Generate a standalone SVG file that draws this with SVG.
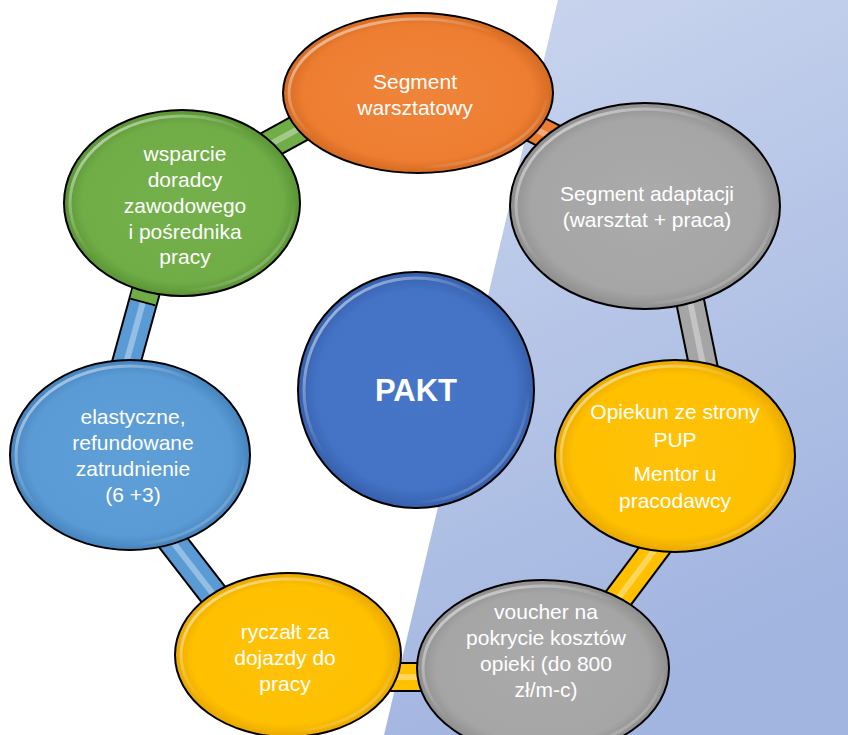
<svg xmlns="http://www.w3.org/2000/svg" width="848" height="735" viewBox="0 0 848 735">
<defs>
<style>
.t{font-family:"Liberation Sans",Arial,sans-serif;font-size:21px;fill:#fff;text-anchor:middle}
.tb{font-family:"Liberation Sans",Arial,sans-serif;font-size:31px;font-weight:bold;fill:#fff;text-anchor:middle}
.ol{stroke:#000;stroke-width:30;fill:none}
.bf{stroke-width:26;fill:none}
.hl{stroke:#fff;stroke-opacity:0.35;stroke-width:6;fill:none}
.node{stroke:#000;stroke-width:2}
.rim{fill:none;stroke:url(#rimg);stroke-width:3}
</style>
<linearGradient id="bg" x1="0" y1="0" x2="0.3" y2="1">
<stop offset="0" stop-color="#ccd7ef"/>
<stop offset="1" stop-color="#a2b5e0"/>
</linearGradient>
<linearGradient id="rimg" x1="0" y1="0" x2="1" y2="1">
<stop offset="0" stop-color="#fff" stop-opacity="0.7"/>
<stop offset="0.45" stop-color="#fff" stop-opacity="0"/>
<stop offset="0.75" stop-color="#fff" stop-opacity="0"/>
<stop offset="1" stop-color="#fff" stop-opacity="0.5"/>
</linearGradient>
<radialGradient id="gO"><stop offset="0" stop-color="#ef853a"/><stop offset="0.85" stop-color="#ed7d31"/><stop offset="1" stop-color="#d46a22"/></radialGradient>
<radialGradient id="gG"><stop offset="0" stop-color="#ababab"/><stop offset="0.85" stop-color="#a5a5a5"/><stop offset="1" stop-color="#8e8e8e"/></radialGradient>
<radialGradient id="gY"><stop offset="0" stop-color="#ffc20a"/><stop offset="0.85" stop-color="#ffc000"/><stop offset="1" stop-color="#e8a800"/></radialGradient>
<radialGradient id="gB"><stop offset="0" stop-color="#5f9fd8"/><stop offset="0.85" stop-color="#5b9bd5"/><stop offset="1" stop-color="#4583bd"/></radialGradient>
<radialGradient id="gGr"><stop offset="0" stop-color="#74b04b"/><stop offset="0.85" stop-color="#70ad47"/><stop offset="1" stop-color="#5a9435"/></radialGradient>
<radialGradient id="gP"><stop offset="0" stop-color="#4676c8"/><stop offset="0.85" stop-color="#4472c4"/><stop offset="1" stop-color="#3560ad"/></radialGradient>
</defs>

<rect width="848" height="735" fill="#fff"/>
<polygon points="558,0 848,0 848,735 384,735" fill="url(#bg)"/>

<g id="connectors">
<line class="ol" x1="247" y1="157" x2="309" y2="123"/>
<line class="bf" x1="247" y1="157" x2="309" y2="123" stroke="#70ad47"/>
<line class="hl" x1="247" y1="157" x2="309" y2="123"/>

<line class="ol" x1="507" y1="115" x2="579" y2="151"/>
<line class="bf" x1="507" y1="115" x2="579" y2="151" stroke="#ed7d31"/>
<line class="hl" x1="507" y1="115" x2="579" y2="151"/>

<line class="ol" x1="686" y1="281" x2="708" y2="389"/>
<line class="bf" x1="686" y1="281" x2="708" y2="389" stroke="#a5a5a5"/>
<line class="hl" x1="686" y1="281" x2="708" y2="389"/>

<line class="ol" x1="668" y1="532" x2="614" y2="604"/>
<line class="bf" x1="668" y1="532" x2="614" y2="604" stroke="#ffc000"/>
<line class="hl" x1="668" y1="532" x2="614" y2="604"/>

<line class="ol" x1="370" y1="677" x2="450" y2="677"/>
<line class="bf" x1="370" y1="677" x2="450" y2="677" stroke="#ffc000"/>
<line class="hl" x1="370" y1="677" x2="450" y2="677"/>

<line class="ol" x1="220" y1="603" x2="165" y2="532"/>
<line class="bf" x1="220" y1="603" x2="165" y2="532" stroke="#5b9bd5"/>
<line class="hl" x1="220" y1="603" x2="165" y2="532"/>

<line class="ol" x1="122" y1="378" x2="154" y2="262"/>
<line class="bf" x1="122" y1="378" x2="154" y2="262" stroke="#5b9bd5"/>
<line class="hl" x1="122" y1="378" x2="154" y2="262"/>
<polygon points="130.3,298.6 155.3,305.4 166,265 141,258" fill="#70ad47"/>
<line x1="130.3" y1="298.6" x2="155.3" y2="305.4" stroke="#000" stroke-width="2"/>
</g>

<g id="n-warsztatowy">
<ellipse class="node" cx="418" cy="93" rx="135" ry="80" fill="url(#gO)"/>
<ellipse class="rim" cx="418" cy="93" rx="129" ry="74"/>
<text class="t" x="415" y="89">Segment</text>
<text class="t" x="415" y="115">warsztatowy</text>
</g>

<g id="n-adaptacji">
<ellipse class="node" cx="645" cy="206" rx="135" ry="103" fill="url(#gG)"/>
<ellipse class="rim" cx="645" cy="206" rx="129" ry="97"/>
<text class="t" x="647" y="201">Segment adaptacji</text>
<text class="t" x="647" y="227">(warsztat + praca)</text>
</g>

<g id="n-opiekun">
<ellipse class="node" cx="675" cy="456" rx="120" ry="96" fill="url(#gY)"/>
<ellipse class="rim" cx="675" cy="456" rx="114" ry="90"/>
<text class="t" x="675" y="419">Opiekun ze strony</text>
<text class="t" x="675" y="447">PUP</text>
<text class="t" x="675" y="481">Mentor u</text>
<text class="t" x="675" y="508">pracodawcy</text>
</g>

<g id="n-voucher">
<ellipse class="node" cx="543" cy="668" rx="126" ry="88" fill="url(#gG)"/>
<ellipse class="rim" cx="543" cy="668" rx="120" ry="82"/>
<text class="t" x="546" y="619">voucher na</text>
<text class="t" x="546" y="645">pokrycie kosztów</text>
<text class="t" x="546" y="671">opieki (do 800</text>
<text class="t" x="546" y="697">zł/m-c)</text>
</g>

<g id="n-ryczalt">
<ellipse class="node" cx="288" cy="655" rx="113" ry="82" fill="url(#gY)"/>
<ellipse class="rim" cx="288" cy="655" rx="107" ry="76"/>
<text class="t" x="285" y="639">ryczałt za</text>
<text class="t" x="285" y="665">dojazdy do</text>
<text class="t" x="285" y="691">pracy</text>
</g>

<g id="n-elastyczne">
<ellipse class="node" cx="130" cy="455" rx="120" ry="95" fill="url(#gB)"/>
<ellipse class="rim" cx="130" cy="455" rx="114" ry="89"/>
<text class="t" x="133" y="424">elastyczne,</text>
<text class="t" x="133" y="450">refundowane</text>
<text class="t" x="133" y="476">zatrudnienie</text>
<text class="t" x="133" y="502">(6 +3)</text>
</g>

<g id="n-wsparcie">
<ellipse class="node" cx="182" cy="203" rx="118" ry="93" fill="url(#gGr)"/>
<ellipse class="rim" cx="182" cy="203" rx="112" ry="87"/>
<text class="t" x="185" y="161">wsparcie</text>
<text class="t" x="185" y="187">doradcy</text>
<text class="t" x="185" y="213">zawodowego</text>
<text class="t" x="185" y="239">i pośrednika</text>
<text class="t" x="185" y="264">pracy</text>
</g>

<g id="n-pakt">
<circle class="node" cx="416" cy="390" r="118" fill="url(#gP)"/>
<circle class="rim" cx="416" cy="390" r="112"/>
<text class="tb" x="416" y="401">PAKT</text>
</g>
</svg>
